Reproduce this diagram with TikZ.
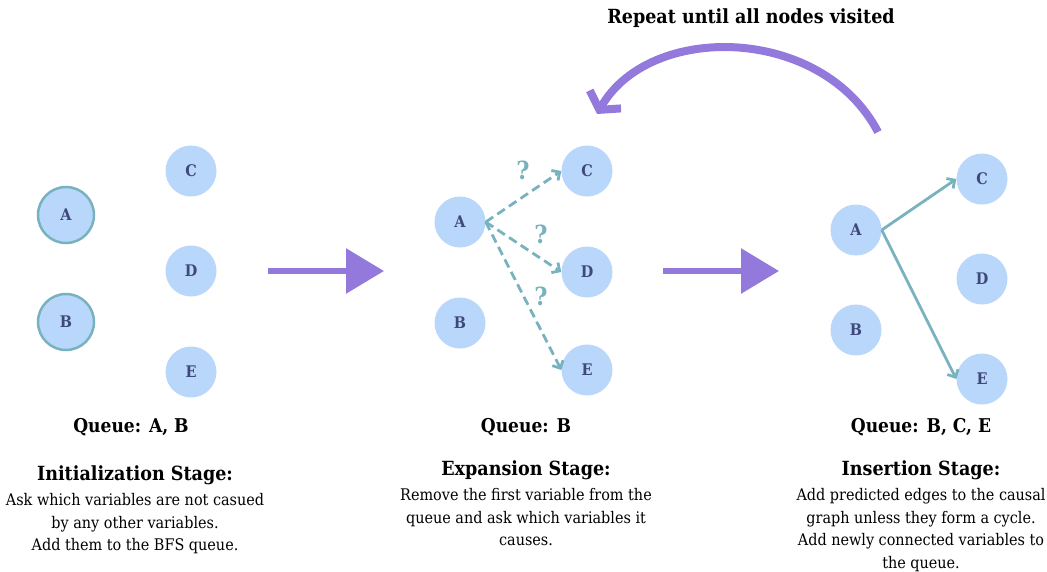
\documentclass[tikz,border=0pt]{standalone}
\usepackage{fontspec}
\setmainfont{DejaVu Serif Condensed}
\usepackage{xcolor}
\usetikzlibrary{arrows.meta,positioning}
\definecolor{nodefill}{HTML}{B9D6FB}
\definecolor{edgeteal}{HTML}{78B2BF}
\definecolor{letterblue}{HTML}{3E4879}
\definecolor{flowpurple}{HTML}{9479DC}

\begin{document}
\begin{tikzpicture}[x=1pt,y=-1pt,
    var/.style={shape=circle, minimum size=51pt, inner sep=0pt, fill=nodefill, text=letterblue, font=\fontsize{16}{18}\selectfont\bfseries},
    root/.style={var, draw=edgeteal, line width=2.5pt, minimum size=56pt},
    ask/.style={draw=edgeteal, line width=2.8pt, dash pattern=on 9pt off 5pt, -{Straight Barb[length=6pt,width=12pt]}},
    add/.style={draw=edgeteal, line width=2.8pt, -{Straight Barb[length=6pt,width=12pt]}},
    qmark/.style={text=edgeteal, font=\fontsize{25}{27}\selectfont\bfseries},
    flow/.style={draw=flowpurple, line width=6pt, -{Triangle[length=38pt,width=44pt]}},
    queue/.style={font=\fontsize{19}{22}\selectfont\bfseries},
    stage/.style={font=\fontsize{19.5}{24}\selectfont\bfseries},
    info/.style={align=center, font=\fontsize{16}{22.5}\selectfont}]
    \useasboundingbox (0,0) rectangle (1047,571);

    % initialization
    \node[root] (ia) at (66,215) {A};
    \node[root] (ib) at (66,322) {B};
    \node[var] (ic) at (191,171) {C};
    \node[var] (id) at (191,271) {D};
    \node[var] (ie) at (191,372) {E};
    \node[queue] (iq) at (131,427) {Queue: A, B};
    \node[stage] (is) at (135,475) {Initialization Stage:};
    \node[info, below=2pt of is] (it) {Ask which variables are not casued\\by any other variables.\\Add them to the BFS queue.};

    % expansion
    \node[var] (ea) at (460,222) {A};
    \node[var] (eb) at (460,323) {B};
    \node[var] (ec) at (587,171) {C};
    \node[var] (ed) at (587,272) {D};
    \node[var] (ee) at (587,370) {E};
    \draw[ask] (ea.east) -- (ec.west);
    \draw[ask] (ea.east) -- (ed.west);
    \draw[ask] (ea.east) -- (ee.west);
    \node[qmark] (q1) at (523,170) {?};
    \node[qmark] (q2) at (541,234) {?};
    \node[qmark] (q3) at (541,296) {?};
    \node[queue] (eq) at (526,427) {Queue: B};
    \node[stage] (es) at (526,470) {Expansion Stage:};
    \node[info, below=2pt of es] (et) {Remove the first variable from the\\queue and ask which variables it\\causes.};

    % insertion
    \node[var] (sa) at (856,230) {A};
    \node[var] (sb) at (856,330) {B};
    \node[var] (sc) at (982,179) {C};
    \node[var] (sd) at (982,279) {D};
    \node[var] (se) at (982,379) {E};
    \draw[add] (sa.east) -- (sc.west);
    \draw[add] (sa.east) -- (se.west);
    \node[queue] (sq) at (921,427) {Queue: B, C, E};
    \node[stage] (ss) at (921,470) {Insertion Stage:};
    \node[info, below=2pt of ss] (st) {Add predicted edges to the causal\\graph unless they form a cycle.\\Add newly connected variables to\\the queue.};

    % stage arrows
    \coordinate (f1) at (268,271);
    \coordinate (f2) at (384,271);
    \coordinate (f3) at (663,271);
    \coordinate (f4) at (779,271);
    \draw[flow] (f1) -- (f2);
    \draw[flow] (f3) -- (f4);

    % loop back
    \coordinate (back) at (878,132);
    \coordinate (front) at (597,114);
    \draw[draw=flowpurple, line width=8pt, -{Straight Barb[length=12pt,width=36pt]}]
      (back) .. controls (822,25) and (650,22) .. (front);
    \node[stage] (rep) at (751,18) {Repeat until all nodes visited};
  \end{tikzpicture}
\end{document}
